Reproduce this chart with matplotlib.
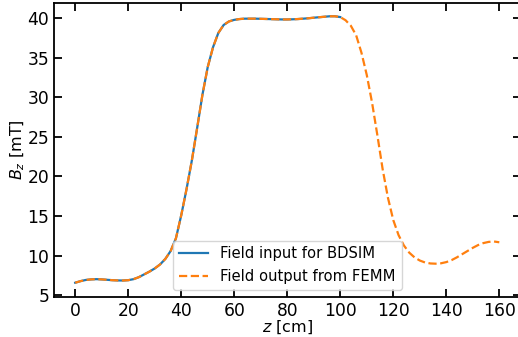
import numpy as np
import matplotlib
matplotlib.use("Agg")
import matplotlib.pyplot as plt

# longitudinal position along the solenoid [cm]
z = np.arange(0, 161, 2)

# Bz [mT], every 2 cm
bz_femm = [
    6.6, 6.8, 6.95, 7.02, 7.05, 7.02, 6.97, 6.92, 6.89, 6.88,
    6.92, 7.05, 7.3, 7.65, 8.0, 8.4, 8.9, 9.6, 10.6, 12.2,
    15.1, 18.4, 22.0, 26.1, 30.3, 33.8, 36.3, 38.1, 39.1, 39.55,
    39.75, 39.85, 39.9, 39.9, 39.9, 39.88, 39.86, 39.84, 39.82, 39.8,
    39.8, 39.82, 39.85, 39.9, 39.95, 40.02, 40.08, 40.14, 40.2, 40.2,
    40.1, 39.7, 39.0, 37.8, 35.6, 32.8, 29.3, 25.2, 20.9, 17.3,
    14.5, 12.6, 11.3, 10.4, 9.8, 9.4, 9.15, 9.03, 9.0, 9.05,
    9.2, 9.45, 9.8, 10.2, 10.6, 11.0, 11.35, 11.6, 11.75, 11.8,
    11.7,
]

# the BDSIM input map only covers the first metre
n_input = 51
z_input = z[:n_input]
bz_input = bz_femm[:n_input]

fig = plt.figure(figsize=(5.18, 3.37), dpi=100)
ax = fig.add_axes([54 / 518, 40 / 337, 466.5 / 518, 294.2 / 337])

ax.plot(z_input, bz_input, color='tab:blue', lw=1.6, label='Field input for BDSIM')
ax.plot(z, bz_femm, color='tab:orange', lw=1.6, ls='--', label='Field output from FEMM')

ax.set_xlim(-8, 168)
ax.set_ylim(4.8, 41.9)
ax.set_xticks(np.arange(0, 161, 20))
ax.set_yticks(np.arange(5, 41, 5))

ax.tick_params(direction='in', top=True, right=True, length=6, width=1.3, labelsize=12.3)
for s in ax.spines.values():
    s.set_linewidth(1.3)

ax.set_xlabel('$z$ [cm]', fontsize=11.5, labelpad=-1)
ax.set_ylabel('$B_z$ [mT]', fontsize=11.5, labelpad=0)
ax.legend(loc='lower center', fontsize=10.6)

fig.savefig('out.png', dpi=100)
